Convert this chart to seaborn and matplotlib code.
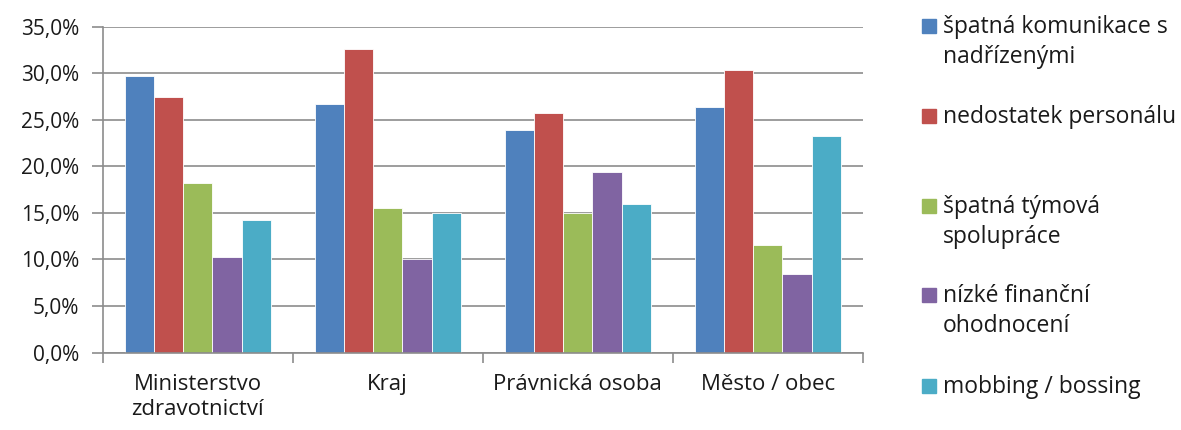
"""Reasons for workplace problems by employer type - grouped bar chart."""

import matplotlib
matplotlib.use("Agg")
import matplotlib.pyplot as plt
import matplotlib.patches as mpatches
from matplotlib.ticker import FuncFormatter, FixedLocator
import seaborn as sns
import pandas as pd

categories = ["Ministerstvo\nzdravotnictví", "Kraj", "Právnická osoba", "Město / obec"]
series = [
    "špatná komunikace s\nnadřízenými",
    "nedostatek personálu",
    "špatná týmová\nspolupráce",
    "nízké finanční\nohodnocení",
    "mobbing / bossing",
]
komunikace = [0.297, 0.267, 0.239, 0.264]
personal = [0.275, 0.326, 0.257, 0.303]
tym = [0.182, 0.155, 0.150, 0.116]
financni = [0.103, 0.100, 0.194, 0.084]
mobbing = [0.142, 0.150, 0.160, 0.233]
colors = ["#4F81BD", "#C0504D", "#9BBB59", "#8064A2", "#4BACC6"]

values = [komunikace, personal, tym, financni, mobbing]
rows = []
for s, vals in zip(series, values):
    for c, v in zip(categories, vals):
        rows.append({"kategorie": c, "duvod": s, "podil": v})
df = pd.DataFrame(rows)

sns.set_style("white")
plt.rcParams["font.family"] = ["Open Sans", "DejaVu Sans"]

fig = plt.figure(figsize=(11.81, 4.30), dpi=100)
ax = fig.add_axes([0.087, 0.18, 0.6435, 0.758])

sns.barplot(data=df, x="kategorie", y="podil", hue="duvod", order=categories,
            hue_order=series, palette=colors, width=0.77, saturation=1,
            edgecolor="white", linewidth=0.6, ax=ax, legend=False)

grid_c = "#8c8c8c"
text_c = "#1a1a1a"
ax.set_ylim(0, 0.35)
ax.set_xlim(-0.5, len(categories) - 0.5)
ax.set_yticks([i * 0.05 for i in range(8)])
ax.yaxis.set_major_formatter(FuncFormatter(lambda v, p: f"{v*100:.1f}%".replace(".", ",")))
ax.grid(True, axis="y", color=grid_c, linewidth=1.2)
ax.set_axisbelow(True)
ax.set_xlabel("")
ax.set_ylabel("")

for side in ["top", "right"]:
    ax.spines[side].set_visible(False)
for side in ["left", "bottom"]:
    ax.spines[side].set_color(grid_c)
    ax.spines[side].set_linewidth(1.2)

ax.tick_params(axis="y", which="major", left=True, length=8, color=grid_c, width=1.2,
               labelsize=15, pad=9, labelcolor=text_c)
ax.tick_params(axis="x", which="major", bottom=False, labelsize=16, pad=12,
               labelcolor=text_c)
for t in ax.get_xticklabels():
    t.set_linespacing(1.25)
ax.xaxis.set_minor_locator(FixedLocator([i - 0.5 for i in range(len(categories) + 1)]))
ax.tick_params(axis="x", which="minor", bottom=True, length=7, color=grid_c, width=1.2)

# legend drawn by hand to keep the Excel-like layout (marker next to first line)
legend_base = [33, 123, 213, 302, 393]
line_gap = 30
H, W = 430, 1181
for lab, col, y in zip(series, colors, legend_base):
    fig.patches.append(mpatches.Rectangle((922 / W, 1 - y / H), 14 / W, 14 / H,
                                          transform=fig.transFigure, color=col))
    for i, line in enumerate(lab.split("\n")):
        fig.text(943 / W, 1 - (y + i * line_gap) / H, line, fontsize=16.5,
                 va="baseline", ha="left", color=text_c)

plt.savefig("out.png", dpi=100)
plt.close()
